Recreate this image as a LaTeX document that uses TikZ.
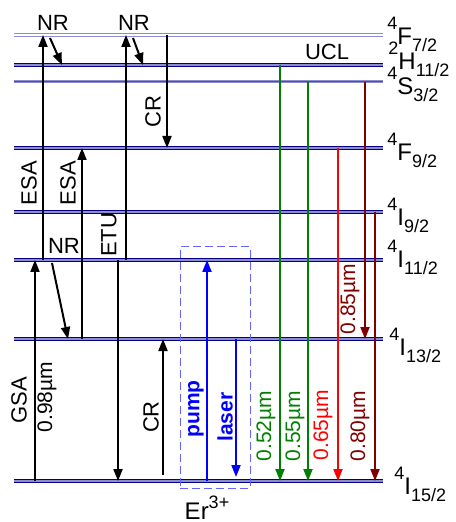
\documentclass[tikz,border=0pt]{standalone}
\usepackage{fontspec}
\setmainfont{Liberation Sans}
\usetikzlibrary{arrows.meta}
\definecolor{lvlnavy}{RGB}{0,0,128}
\definecolor{lvllav}{RGB}{140,140,210}
\definecolor{ucgreen}{RGB}{0,128,0}
\definecolor{ucdred}{RGB}{128,0,0}
\definecolor{boxblue}{RGB}{100,100,255}
\newcommand{\term}[3]{\raisebox{7.5pt}{\fontsize{9}{10}\selectfont #1}#2\raisebox{-3.5pt}{\fontsize{9}{10}\selectfont #3}}

\begin{document}
\begin{tikzpicture}[x=0.5pt, y=-0.5pt,
    lvl/.style={draw=lvlnavy, line width=0.6pt, double=lvllav, double distance=0.6pt},
    lvlthin/.style={draw=lvllav, line width=0.9pt, double=white, double distance=0.6pt},
    lvlpale/.style={draw=lvllav, line width=0.5pt, double=lvlnavy!70, double distance=0.5pt},
    arr/.style={-{Triangle[length=6pt,width=4.5pt]}, line width=1pt},
    lab/.style={font=\fontsize{11}{13}\selectfont, inner sep=0pt},
    vlab/.style={lab, rotate=90},
    wlab/.style={vlab, font=\fontsize{10.5}{12}\selectfont},
    term/.style={anchor=base west, inner sep=0pt, font=\fontsize{12}{14}\selectfont}]
  \useasboundingbox (0,0) rectangle (455,522);

  % energy levels of Er3+
  \foreach \n/\y/\s in {F72/35/lvlthin, H112/65/lvl, S32/82/lvlpale, F92/148/lvl,
                        I92/212/lvl, I112/260/lvl, I132/339/lvl, I152/481/lvl}
    \draw[\s] (14,\y) coordinate (\n) -- (383,\y);

  \node[term] (tF72) at (387,45) {\term{4}{F}{7/2}};
  \node[term] (tH112) at (388,70) {\term{2}{H}{11/2}};
  \node[term] (tS32) at (387,95) {\term{4}{S}{3/2}};
  \node[term] (tF92) at (387,161) {\term{4}{F}{9/2}};
  \node[term] (tI92) at (387,226) {\term{4}{I}{9/2}};
  \node[term] (tI112) at (387,268) {\term{4}{I}{11/2}};
  \node[term] (tI132) at (389,355) {\term{4}{I}{13/2}};
  \node[term] (tI152) at (394,494) {\term{4}{I}{15/2}};

  % absorption and transfer
  \draw[arr] (35,0 |- I152) -- (35,0 |- I112);
  \node[vlab] (gsa) at (19,400) {GSA};
  \node[wlab] (wgsa) at (47,397) {0.98µm};
  \draw[arr] (43,0 |- I112) -- (43,0 |- F72);
  \node[vlab] (esa1) at (29,183) {ESA};
  \draw[arr] (50,38) -- (62,0 |- H112);
  \node[lab] (nr1) at (53,23) {NR};
  \draw[arr] (82,0 |- I132) -- (82,0 |- F92);
  \node[vlab] (esa2) at (68,183) {ESA};
  \draw[arr] (52,263) -- (68,0 |- I132);
  \node[lab] (nr2) at (64,246) {NR};
  \draw[arr] (118,0 |- I112) -- (118,0 |- I152);
  \draw[arr] (126,0 |- I112) -- (126,0 |- F72);
  \node[vlab] (etu) at (109,235) {ETU};
  \draw[arr] (133,38) -- (143,0 |- H112);
  \node[lab] (nr3) at (134,23) {NR};
  \draw[arr] (167,0 |- F72) -- (167,0 |- F92);
  \node[vlab] (cr1) at (153,112) {CR};
  \draw[arr] (163,475) -- (163,0 |- I132);
  \node[vlab] (cr2) at (151,417) {CR};

  % laser transition
  \node[draw=boxblue, dashed, dash pattern=on 4pt off 2pt, line width=0.5pt,
        minimum width=35pt, minimum height=120.5pt, inner sep=0pt] (erbox) at (215,367.5) {};
  \node[lab, font=\fontsize{12}{14}\selectfont] (er) at (207,508) {Er\raisebox{5.5pt}{\fontsize{9}{10}\selectfont 3+}};
  \draw[arr, blue] (207,0 |- I152) -- (207,0 |- I112);
  \node[vlab, blue, font=\fontsize{10.5}{12}\selectfont\bfseries] (pump) at (196,409) {pump};
  \draw[arr, blue] (236,0 |- I132) -- (236,477);
  \node[vlab, blue, font=\fontsize{10.5}{12}\selectfont\bfseries] (laser) at (225,417) {laser};

  % upconversion luminescence
  \node[lab] (ucl) at (327,52) {UCL};
  \draw[arr, ucgreen] (280,0 |- H112) -- (280,0 |- I152);
  \node[wlab, ucgreen] (w52) at (266,426) {0.52µm};
  \draw[arr, ucgreen] (308,0 |- S32) -- (308,0 |- I152);
  \node[wlab, ucgreen] (w55) at (295,426) {0.55µm};
  \draw[arr, red] (338,0 |- F92) -- (338,0 |- I152);
  \node[wlab, red] (w65) at (323,425) {0.65µm};
  \draw[arr, ucdred] (365,0 |- S32) -- (365,0 |- I132);
  \node[wlab, ucdred] (w85) at (350,299) {0.85µm};
  \draw[arr, ucdred] (375,0 |- I92) -- (375,0 |- I152);
  \node[wlab, ucdred] (w80) at (360,426) {0.80µm};
\end{tikzpicture}
\end{document}
